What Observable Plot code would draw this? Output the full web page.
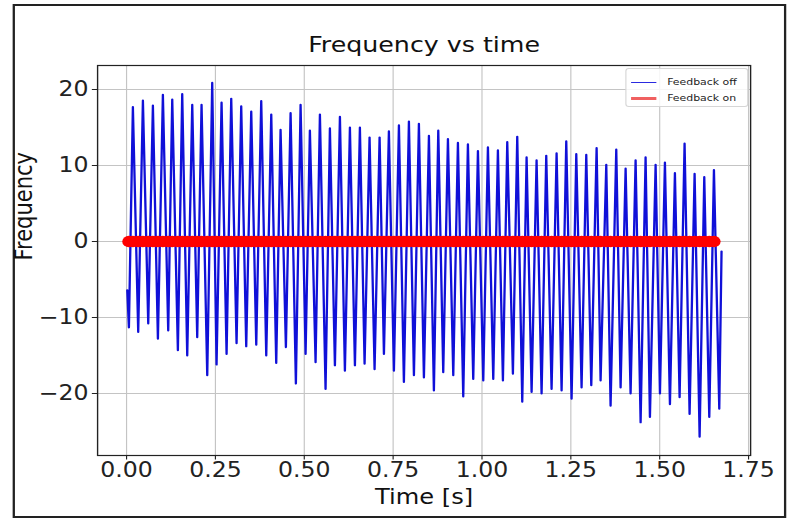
<!DOCTYPE html>
<html>
<head>
<meta charset="utf-8">
<script src="https://cdn.jsdelivr.net/npm/d3@7"></script>
<script src="https://cdn.jsdelivr.net/npm/@observablehq/plot@0.6"></script>
<style>
  html, body { margin: 0; padding: 0; background: #fff; }
  #stage { position: absolute; left: 0; top: 0; width: 689px; height: 521px;
           transform: scaleX(1.14949); transform-origin: 0 0;
           font-family: "DejaVu Sans", sans-serif; }
  #border { position: absolute; left: 11.3px; top: 4px; width: 672.5px; height: 514px;
            border: 2px solid #222; box-sizing: border-box; }
  #chart { position: absolute; left: 0; top: 0; }
  #legend { position: absolute; left: 543.7px; top: 68px; width: 107px; height: 39px;
            box-sizing: border-box; border: 1px solid #d6d6d6; border-radius: 3px;
            background: rgba(255,255,255,0.85); }
  .sw { position: absolute; width: 21.7px; height: 1.8px; }
  .lt { position: absolute; font-size: 9.5px; line-height: 11px; color: #222; white-space: nowrap; }
</style>
</head>
<body>
<div id="stage">
  <div id="border"></div>
  <div id="chart"></div>
  <div id="legend"></div>
</div>
<script>
// ---- data ----
const xTicks = [0, 0.25, 0.5, 0.75, 1.0, 1.25, 1.5, 1.75];
const yTicks = [-20, -10, 0, 10, 20];
const seriesNames = ["Feedback off", "Feedback on"];

// Feedback off: start point, alternating troughs and peaks, end point
const startPoint = { t: 0.002, v: -6.4 };
const endPoint = { t: 1.674, v: -1.3 };
const peakTimes = [0.0178, 0.0460, 0.0741, 0.1022, 0.1285, 0.1566, 0.1848, 0.2110, 0.2410, 0.2673,
  0.2945, 0.3226, 0.3508, 0.3789, 0.4071, 0.4333, 0.4615, 0.4896, 0.5158, 0.5440,
  0.5721, 0.6003, 0.6284, 0.6565, 0.6837, 0.7119, 0.7381, 0.7663, 0.7944, 0.8225,
  0.8507, 0.8770, 0.9042, 0.9323, 0.9604, 0.9886, 1.0167, 1.0448, 1.0711, 1.0992,
  1.1255, 1.1536, 1.1808, 1.2099, 1.2371, 1.2653, 1.2934, 1.3225, 1.3497, 1.3778,
  1.4041, 1.4322, 1.4603, 1.4885, 1.5147, 1.5428, 1.5700, 1.5982, 1.6254, 1.6526];
const peakValues = [17.7, 18.55, 17.9, 19.3, 18.7, 19.4, 18.0, 18.0, 20.9, 18.3,
  18.8, 17.8, 17.1, 18.5, 16.7, 14.7, 16.9, 18.0, 14.6, 16.7,
  14.9, 16.4, 15.0, 15.0, 13.7, 13.7, 14.5, 15.3, 15.8, 15.5,
  13.9, 14.6, 13.5, 13.0, 12.8, 11.9, 12.4, 12.0, 13.1, 13.8,
  11.1, 10.7, 11.3, 11.6, 13.2, 11.5, 11.4, 12.3, 10.1, 12.1,
  9.6, 10.7, 11.1, 10.1, 10.4, 9.0, 12.9, 8.9, 8.5, 9.4];
const troughTimes = [0.0066, 0.0328, 0.0610, 0.0882, 0.1172, 0.1444, 0.1707, 0.1988, 0.2270, 0.2532,
  0.2814, 0.3095, 0.3367, 0.3649, 0.3930, 0.4211, 0.4483, 0.4764, 0.5037, 0.5318,
  0.5599, 0.5862, 0.6143, 0.6425, 0.6697, 0.6978, 0.7241, 0.7522, 0.7803, 0.8085,
  0.8366, 0.8647, 0.8910, 0.9192, 0.9473, 0.9754, 1.0036, 1.0317, 1.0589, 1.0870,
  1.1133, 1.1396, 1.1677, 1.1958, 1.2240, 1.2521, 1.2802, 1.3075, 1.3337, 1.3618,
  1.3900, 1.4181, 1.4463, 1.4725, 1.5007, 1.5288, 1.5560, 1.5841, 1.6123, 1.6395, 1.6676];
const troughValues = [-11.3, -11.9, -10.8, -12.8, -11.7, -14.3, -15.0, -12.6, -17.6, -16.2,
  -14.8, -13.4, -13.8, -13.6, -15.0, -16.0, -13.9, -18.7, -14.8, -15.9,
  -19.4, -16.3, -17.0, -16.3, -16.1, -16.8, -14.8, -17.0, -18.5, -17.6,
  -17.9, -19.6, -17.2, -17.6, -20.4, -18.1, -18.3, -18.1, -18.3, -17.4,
  -21.1, -19.8, -20.0, -19.4, -19.6, -20.7, -19.2, -18.9, -18.3, -21.6,
  -19.2, -20.0, -23.8, -23.1, -20.0, -21.4, -20.5, -22.7, -25.7, -23.1, -22.0];
// Feedback on: flat at zero
const feedbackOnValue = 0;

// ---- build tables ----
const offData = [startPoint];
for (let i = 0; i < troughTimes.length; i++) {
  offData.push({ t: troughTimes[i], v: troughValues[i] });
  if (i < peakTimes.length) offData.push({ t: peakTimes[i], v: peakValues[i] });
}
offData.push(endPoint);

const onTimes = troughTimes.slice(0, peakTimes.length).concat(peakTimes).sort((a, b) => a - b);
const onData = onTimes.map(t => ({ t, v: feedbackOnValue }));

const fmtY = d3.format("d");
const fmtX = d3.format(".2f");

const chart = Plot.plot({
  width: 689, height: 521,
  marginLeft: 84.4, marginRight: 36.5, marginTop: 65, marginBottom: 66,
  style: { background: "transparent", fontFamily: "DejaVu Sans, sans-serif", color: "#222", overflow: "visible" },
  x: { domain: [-0.0815, 1.7558] },
  y: { domain: [-28.16, 23.16] },
  marks: [
    Plot.gridX(xTicks, { stroke: "#c4c4c4", strokeOpacity: 1, strokeWidth: 1 }),
    Plot.gridY(yTicks, { stroke: "#c4c4c4", strokeOpacity: 1, strokeWidth: 1 }),
    Plot.line(offData, { x: "t", y: "v", stroke: "#1010d8", strokeWidth: 2 }),
    Plot.line(onData, { x: "t", y: "v", stroke: "red", strokeWidth: 4 }),
    Plot.dot(onData, { x: "t", y: "v", r: 5.8, fill: "red", stroke: "none" }),
    Plot.frame({ stroke: "#222", strokeWidth: 1.2 }),
    Plot.axisX(xTicks, { tickFormat: fmtX, tickSize: 4.5, tickPadding: 2, label: null, fontSize: 20.5, stroke: "#222", fill: "#222" }),
    Plot.axisY(yTicks, { tickFormat: fmtY, tickSize: 4.5, tickPadding: 3.5, label: null, fontSize: 20.5, stroke: "#222", fill: "#222" }),
    Plot.text(["Frequency vs time"], { frameAnchor: "top", dy: -21, fontSize: 22, lineAnchor: "middle", fill: "#111" }),
    Plot.text(["Time [s]"], { frameAnchor: "bottom", dy: 42, fontSize: 21, lineAnchor: "middle", fill: "#111" }),
    Plot.text(["Frequency"], { frameAnchor: "left", dx: -63.5, rotate: -90, fontSize: 21, lineAnchor: "middle", fill: "#111" })
  ]
});
document.getElementById("chart").appendChild(chart);

// legend
const legend = document.getElementById("legend");
const colors = ["#2a2ae0", "#f06060"];
const rowsY = [81.7, 97.7];
seriesNames.forEach((name, i) => {
  const sw = document.createElement("div");
  sw.className = "sw";
  sw.style.left = (548 - 543.7) + "px";
  sw.style.top = (rowsY[i] - 68 - 1 - (i ? 0.6 : 0)) + "px";
  sw.style.height = (i ? 3 : 1.8) + "px";
  sw.style.background = colors[i];
  legend.appendChild(sw);
  const lt = document.createElement("div");
  lt.className = "lt";
  lt.style.left = (579.4 - 543.7) + "px";
  lt.style.top = (rowsY[i] - 68 - 6.5) + "px";
  lt.textContent = name;
  legend.appendChild(lt);
});
</script>
</body>
</html>
